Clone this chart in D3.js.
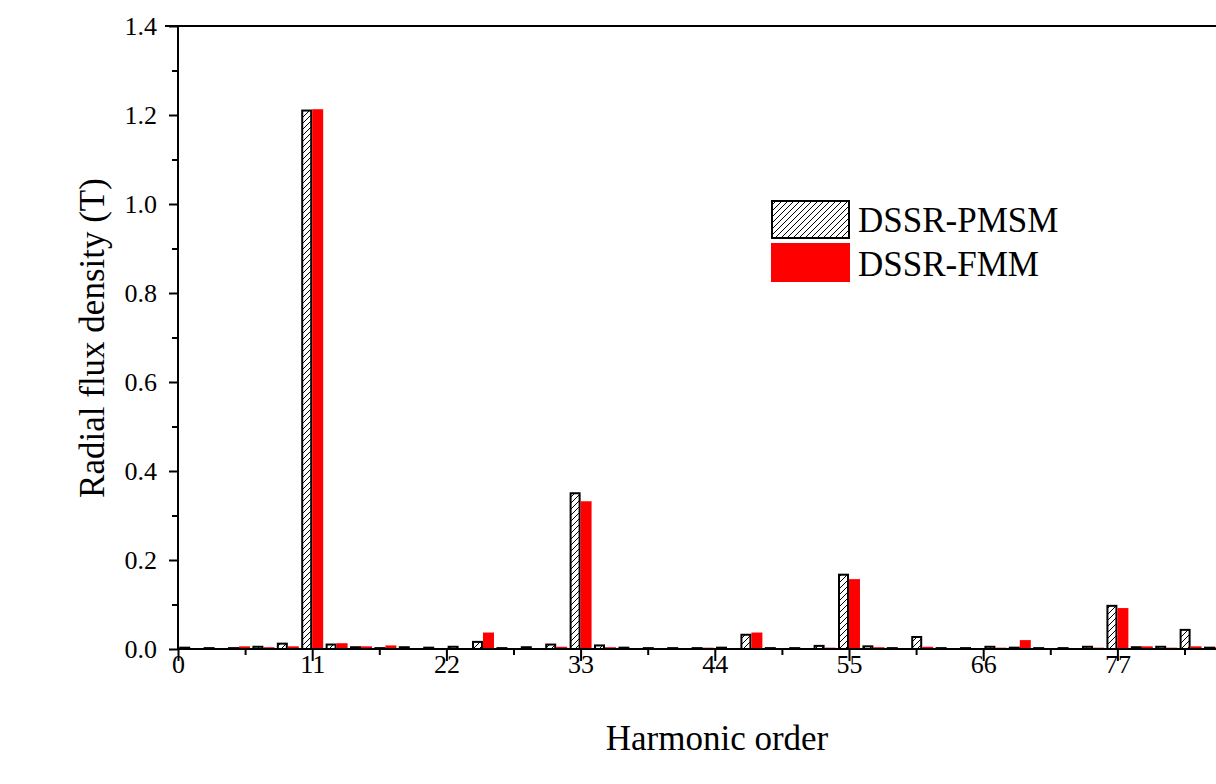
<!DOCTYPE html>
<html>
<head>
<meta charset="utf-8">
<script src="https://cdn.jsdelivr.net/npm/d3@7"></script>
<style>
  body { margin: 0; background: #fff; }
  svg { display: block; font-family: "Liberation Serif", "Times New Roman", serif; }
</style>
</head>
<body>
<div class="graph"></div>
<script>
// harmonic orders (odd only) and amplitudes for the two machines
var orders = [1, 3, 5, 7, 9, 11, 13, 15, 17, 19, 21, 23, 25, 27, 29, 31, 33, 35, 37, 39, 41, 43,
	45, 47, 49, 51, 53, 55, 57, 59, 61, 63, 65, 67, 69, 71, 73, 75, 77, 79, 81, 83, 85, 87];
var pmsm = [0.003, 0.002, 0.002, 0.005, 0.012, 1.210, 0.010, 0.004, 0.002, 0.004, 0.003, 0.005,
	0.016, 0.002, 0.004, 0.010, 0.350, 0.008, 0.003, 0.002, 0.002, 0.002,
	0.003, 0.032, 0.002, 0.002, 0.007, 0.167, 0.006, 0.002, 0.027, 0.002, 0.002, 0.005,
	0.003, 0.002, 0.002, 0.005, 0.097, 0.004, 0.005, 0.043, 0.003, 0.002];
var fmm = [0.002, 0.002, 0.006, 0.004, 0.006, 1.213, 0.013, 0.006, 0.008, 0.002, 0.002, 0.002,
	0.037, 0.002, 0.002, 0.005, 0.332, 0.004, 0.002, 0.002, 0.001, 0.003,
	0.002, 0.037, 0.002, 0.002, 0.003, 0.157, 0.004, 0.002, 0.005, 0.002, 0.002, 0.003,
	0.020, 0.002, 0.002, 0.003, 0.092, 0.006, 0.003, 0.006, 0.004, 0.002];
var xTicks = [0, 11, 22, 33, 44, 55, 66, 77];
var yTicks = [0, 0.2, 0.4, 0.6, 0.8, 1.0, 1.2, 1.4];
var seriesNames = ["DSSR-PMSM", "DSSR-FMM"];

const WIDTH = 1216, HEIGHT = 784;
const LEFT = 178, TOP = 26, BOTTOM = 649;
const BARW = 0.9;

var xScale = d3.scaleLinear().domain([0, 88]).range([LEFT, LEFT + 88 * 12.2]);
var yScale = d3.scaleLinear().domain([0, 1.4]).range([BOTTOM, TOP]);

var svg = d3.select(".graph").append("svg")
	.attr("width", WIDTH)
	.attr("height", HEIGHT);

var defs = svg.append("defs");
var pat = defs.append("pattern")
	.attr("id", "hatch")
	.attr("patternUnits", "userSpaceOnUse")
	.attr("width", 6).attr("height", 6);
pat.append("rect").attr("width", 6).attr("height", 6).attr("fill", "#fff");
pat.append("path")
	.attr("d", "M-1,7 L7,-1 M-3,3 L3,-3 M3,9 L9,3")
	.attr("stroke", "#000").attr("stroke-width", 1);

// bars: PMSM left of the order, FMM right of it
var gBars = svg.append("g");
gBars.selectAll(".pm").data(orders).enter().append("rect")
	.attr("class", "pm")
	.attr("x", function(d) { return xScale(d - BARW) + 1; })
	.attr("y", function(d, i) { return yScale(pmsm[i]); })
	.attr("width", function(d) { return xScale(d) - xScale(d - BARW) - 2; })
	.attr("height", function(d, i) { return BOTTOM - yScale(pmsm[i]); })
	.attr("fill", "url(#hatch)")
	.attr("stroke", "#000")
	.attr("stroke-width", 2);

gBars.selectAll(".fm").data(orders).enter().append("rect")
	.attr("class", "fm")
	.attr("x", function(d) { return xScale(d); })
	.attr("y", function(d, i) { return yScale(fmm[i]); })
	.attr("width", function(d) { return xScale(d + BARW) - xScale(d); })
	.attr("height", function(d, i) { return BOTTOM - yScale(fmm[i]); })
	.attr("fill", "#ff0000");

// axes
var xMinor = d3.range(5.5, 89, 11);
var yMinor = d3.range(0.1, 1.4, 0.2);

var xAxis = d3.axisBottom(xScale).tickValues(xTicks).tickSize(12).tickFormat(d3.format("d"));
var gx = svg.append("g").attr("transform", "translate(0," + BOTTOM + ")").call(xAxis);
svg.append("g").attr("transform", "translate(0," + BOTTOM + ")")
	.call(d3.axisBottom(xScale).tickValues(xMinor).tickSize(6).tickFormat(""))
	.select(".domain").remove();

var yAxis = d3.axisLeft(yScale).tickValues(yTicks).tickSize(9).tickFormat(d3.format(".1f"));
var gy = svg.append("g").attr("transform", "translate(" + LEFT + ",0)").call(yAxis);
svg.append("g").attr("transform", "translate(" + LEFT + ",0)")
	.call(d3.axisLeft(yScale).tickValues(yMinor).tickSize(6).tickFormat(""))
	.select(".domain").remove();

svg.selectAll("g").attr("font-size", null).attr("font-family", null);
gx.select(".domain").attr("d", "M" + LEFT + ",0H" + WIDTH).attr("stroke-width", 2);
gy.select(".domain").attr("d", "M0," + TOP + "V" + BOTTOM).attr("stroke-width", 2);
svg.selectAll(".tick line").attr("stroke-width", 2);
svg.selectAll(".tick text")
	.style("font-size", "26px")
	.style("font-family", "'Liberation Serif', serif")
	.attr("fill", "#000");
gx.selectAll(".tick text").attr("y", 0).attr("dy", 24);
gy.selectAll(".tick text").attr("x", -21).attr("dy", "0.33em");

// top frame line
svg.append("line")
	.attr("x1", LEFT - 13).attr("x2", WIDTH)
	.attr("y1", TOP).attr("y2", TOP)
	.attr("stroke", "#000").attr("stroke-width", 2);

// axis titles
svg.append("text")
	.attr("x", 717).attr("y", 750)
	.attr("text-anchor", "middle")
	.style("font-size", "35px")
	.text("Harmonic order");

svg.append("text")
	.attr("transform", "translate(104,338) rotate(-90)")
	.attr("text-anchor", "middle")
	.style("font-size", "35px")
	.text("Radial flux density (T)");

// legend
var legend = svg.append("g").attr("transform", "translate(771,200)");
legend.append("rect")
	.attr("x", 1).attr("y", 1).attr("width", 77).attr("height", 37)
	.attr("fill", "url(#hatch)").attr("stroke", "#000").attr("stroke-width", 2);
legend.append("rect")
	.attr("x", 0).attr("y", 43).attr("width", 79).attr("height", 39)
	.attr("fill", "#ff0000");
legend.selectAll(".lt").data(seriesNames).enter().append("text")
	.attr("x", 87)
	.attr("y", function(d, i) { return 32 + i * 44; })
	.style("font-size", "35px")
	.text(function(d) { return d; });
</script>
</body>
</html>
